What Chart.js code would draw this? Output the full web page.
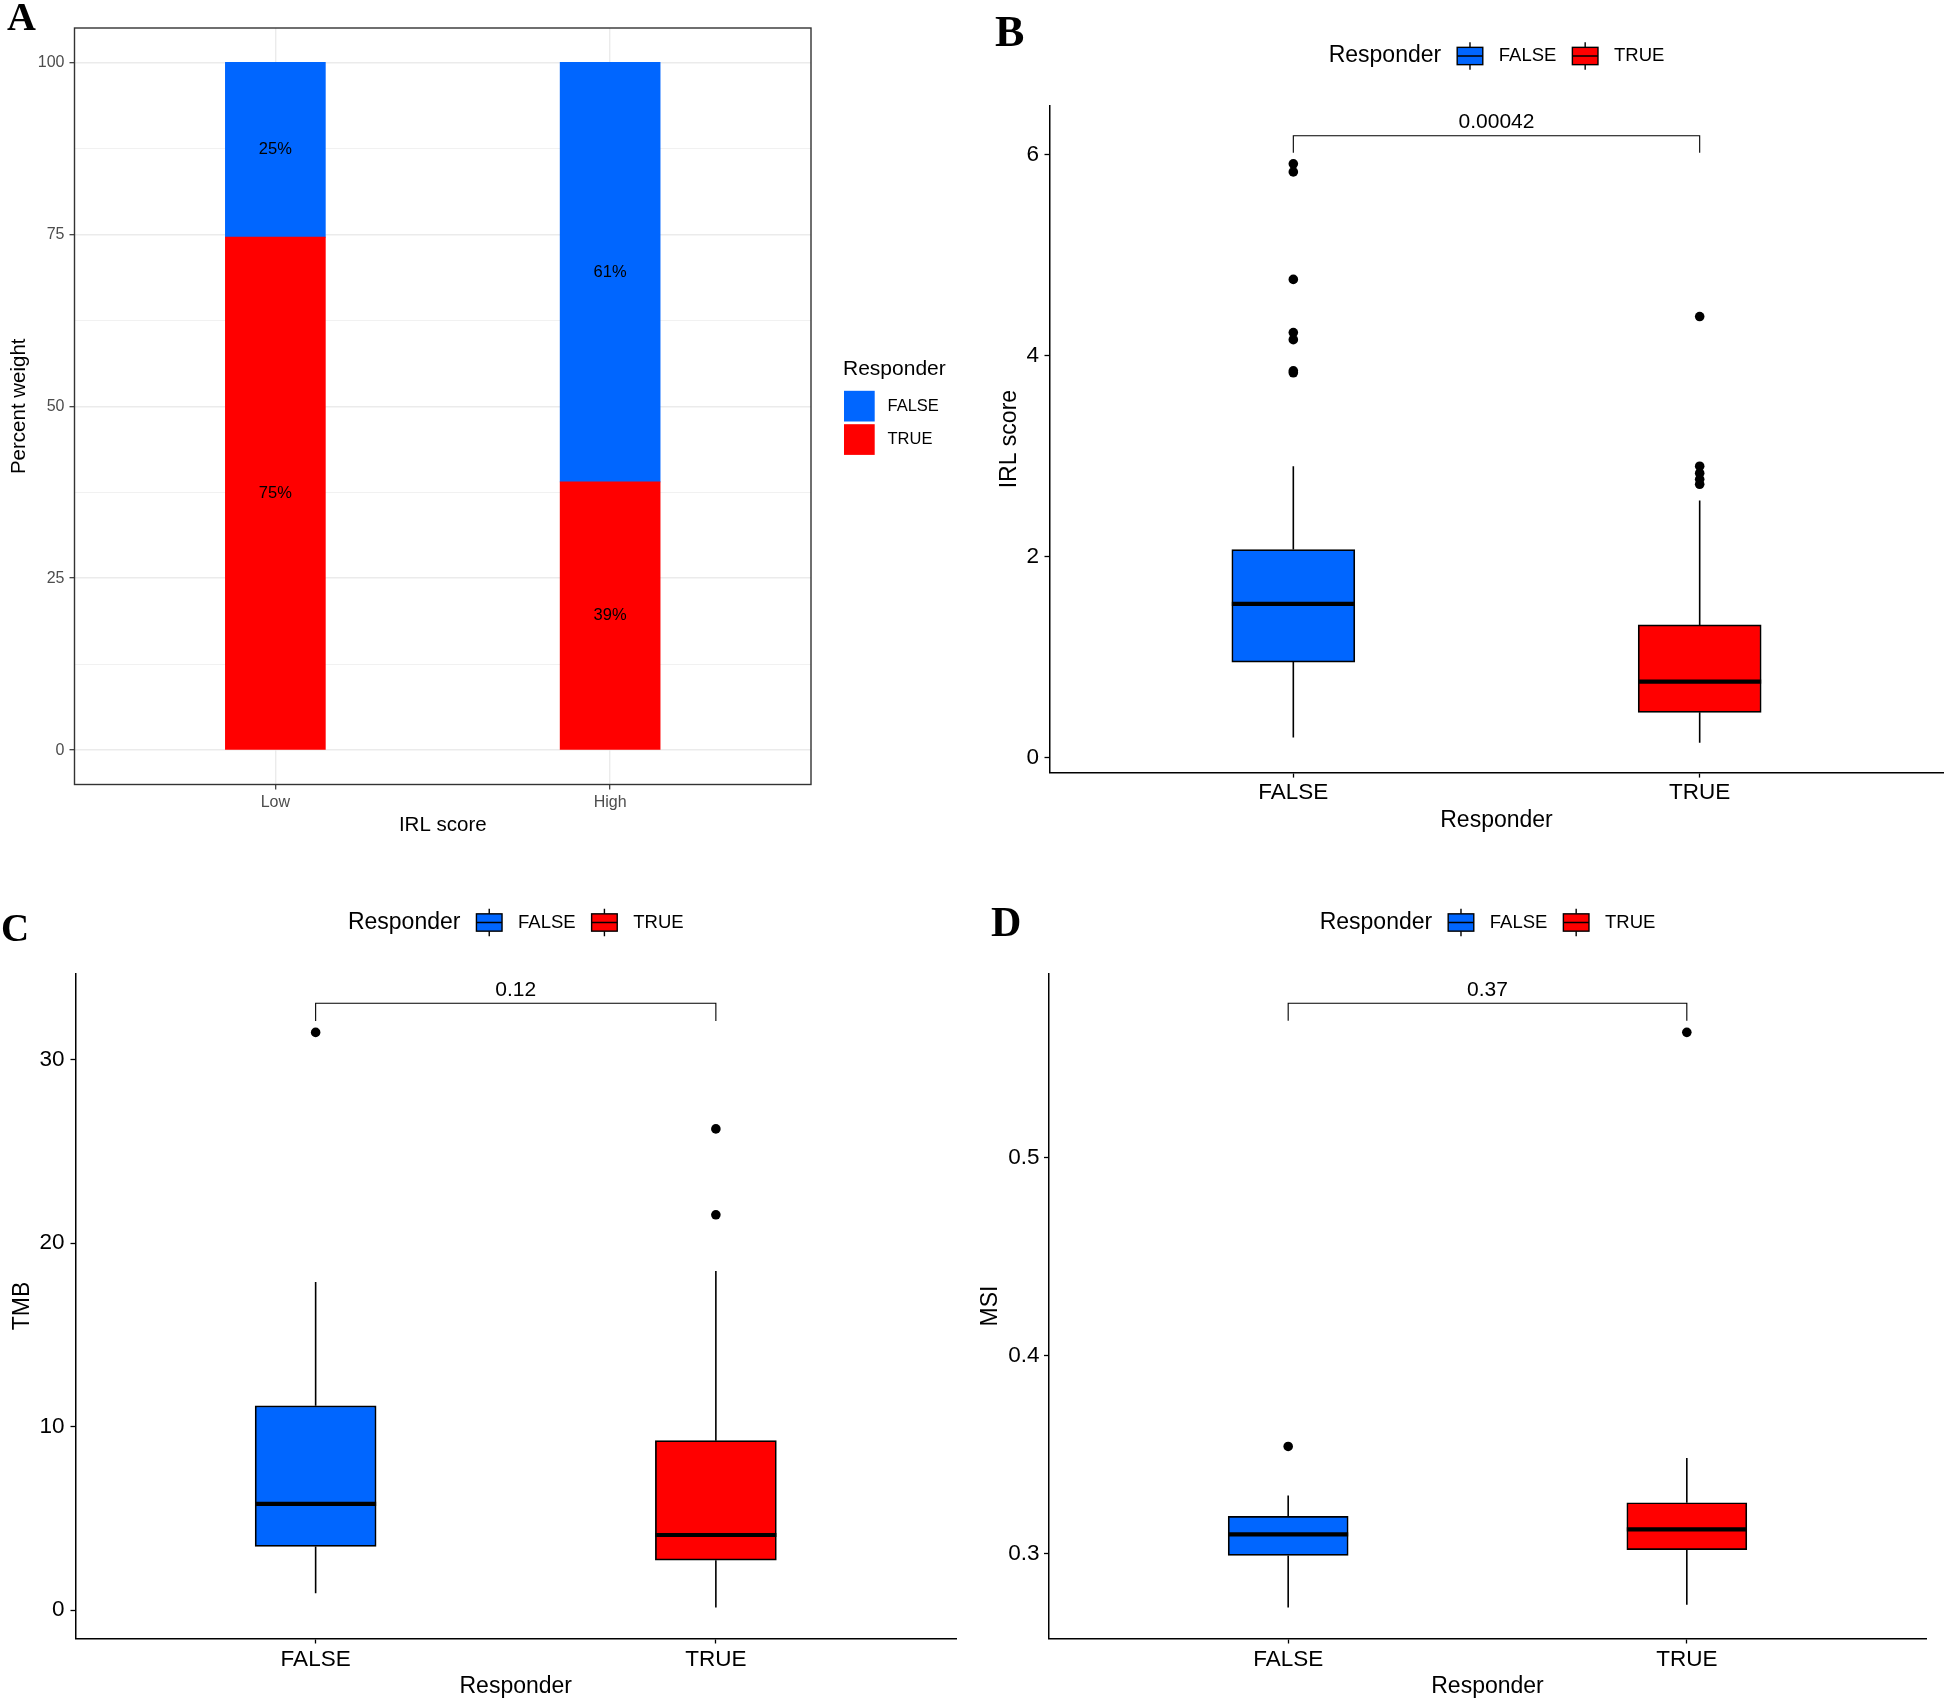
<!DOCTYPE html>
<html>
<head>
<meta charset="utf-8">
<script src="https://cdn.jsdelivr.net/npm/chart.js@4.4.1/dist/chart.umd.min.js"></script>
<style>
html,body{margin:0;padding:0;background:#fff;}
#wrap{position:relative;width:1944px;height:1700px;background:#fff;overflow:hidden;}
canvas{position:absolute;}
</style>
</head>
<body>
<div id="wrap">
<canvas id="cA" width="972" height="850" style="left:0px;top:0px;width:972px;height:850px"></canvas>
<canvas id="cB" width="972" height="850" style="left:972px;top:0px;width:972px;height:850px"></canvas>
<canvas id="cC" width="972" height="850" style="left:0px;top:850px;width:972px;height:850px"></canvas>
<canvas id="cD" width="972" height="850" style="left:972px;top:850px;width:972px;height:850px"></canvas>
</div>
<script>
// ---------------- DATA ----------------
// Panel A : stacked percent bars
const scoreGroups = ['Low', 'High'];
const pctTrue = [74.6, 39];
const pctFalse = [25.4, 61];
const pctTrueLabels = ['75%', '39%'];
const pctFalseLabels = ['25%', '61%'];
const pctTickValues = [0, 25, 50, 75, 100];
const pctTickLabels = ['0', '25', '50', '75', '100'];
const pctMinorValues = [12.5, 37.5, 62.5, 87.5];

// Responder groups (box plots)
const responderCats = ['FALSE', 'TRUE'];
const responderColors = ['#0066FF', '#FF0000'];

// Panel B : IRL score
const irlQ1 = [0.95, 0.45];
const irlMedian = [1.53, 0.755];
const irlQ3 = [2.07, 1.32];
const irlWhiskerLow = [0.20, 0.146];
const irlWhiskerHigh = [2.90, 2.56];
const irlOutliersFalse = [5.91, 5.83, 4.76, 4.23, 4.16, 3.85, 3.83];
const irlOutliersTrue = [4.39, 2.90, 2.83, 2.77, 2.72];
const irlTickValues = [0, 2, 4, 6];
const irlTickLabels = ['0', '2', '4', '6'];
const irlRange = [-0.15, 6.49];
const irlPValue = '0.00042';
const irlBracket = [6.19, 6.02];

// Panel C : TMB
const tmbQ1 = [3.47, 2.72];
const tmbMedian = [5.79, 4.09];
const tmbQ3 = [11.13, 9.23];
const tmbWhiskerLow = [0.91, 0.14];
const tmbWhiskerHigh = [17.88, 18.48];
const tmbOutliersFalse = [31.48];
const tmbOutliersTrue = [26.22, 21.54];
const tmbTickValues = [0, 10, 20, 30];
const tmbTickLabels = ['0', '10', '20', '30'];
const tmbRange = [-1.55, 34.69];
const tmbPValue = '0.12';
const tmbBracket = [33.07, 32.1];

// Panel D : MSI
const msiQ1 = [0.2992, 0.3021];
const msiMedian = [0.3098, 0.3124];
const msiQ3 = [0.3189, 0.3258];
const msiWhiskerLow = [0.2730, 0.2743];
const msiWhiskerHigh = [0.3295, 0.3484];
const msiOutliersFalse = [0.3542];
const msiOutliersTrue = [0.5631];
const msiTickValues = [0.3, 0.4, 0.5];
const msiTickLabels = ['0.3', '0.4', '0.5'];
const msiRange = [0.2573, 0.5928];
const msiPValue = '0.37';
const msiBracket = [0.5778, 0.5689];

// ---------------- STYLE ----------------
const SANS = '"Liberation Sans", Arial, Helvetica, sans-serif';
const SERIF = '"Liberation Serif", "Times New Roman", serif';

function drawLetter(ctx, letter, x, y, size) {
  ctx.save();
  ctx.font = 'bold ' + size + 'px ' + SERIF;
  ctx.fillStyle = '#000';
  ctx.textAlign = 'left';
  ctx.textBaseline = 'alphabetic';
  ctx.fillText(letter, x, y);
  ctx.restore();
}

// ---------------- PANEL A ----------------
const panelADecor = {
  id: 'panelADecor',
  afterDatasetsDraw(chart) {
    const ctx = chart.ctx;
    const labels = [pctTrueLabels, pctFalseLabels];
    ctx.save();
    ctx.font = '16.5px ' + SANS;
    ctx.fillStyle = '#000';
    ctx.textAlign = 'center';
    ctx.textBaseline = 'middle';
    chart.data.datasets.forEach((ds, di) => {
      chart.getDatasetMeta(di).data.forEach((el, i) => {
        const p = el.getProps(['x', 'y', 'base'], true);
        ctx.fillText(labels[di][i], p.x, (p.y + p.base) / 2);
      });
    });
    ctx.restore();
  },
  afterDraw(chart) {
    const ctx = chart.ctx, a = chart.chartArea;
    ctx.save();
    ctx.strokeStyle = '#333333';
    ctx.lineWidth = 1.4;
    ctx.strokeRect(a.left, a.top, a.right - a.left, a.bottom - a.top);
    // legend
    ctx.fillStyle = '#000';
    ctx.textAlign = 'left';
    ctx.textBaseline = 'middle';
    ctx.font = '21px ' + SANS;
    ctx.fillText('Responder', 843, 369.5);
    ctx.font = '16.5px ' + SANS;
    const keyTop = [390.8, 424.2];
    responderCats.forEach((c, i) => {
      ctx.fillStyle = responderColors[i];
      ctx.fillRect(844, keyTop[i], 30.7, 30.7);
      ctx.fillStyle = '#000';
      ctx.fillText(c, 887.5, keyTop[i] + 15.5);
    });
    ctx.restore();
    drawLetter(ctx, 'A', 7, 29.8, 40);
  }
};

new Chart(document.getElementById('cA'), {
  type: 'bar',
  data: {
    datasets: [
      { label: 'TRUE', data: scoreGroups.map((g, i) => ({ x: i + 1, y: pctTrue[i] })),
        backgroundColor: responderColors[1], borderWidth: 0, barThickness: 100 },
      { label: 'FALSE', data: scoreGroups.map((g, i) => ({ x: i + 1, y: pctFalse[i] })),
        backgroundColor: responderColors[0], borderWidth: 0, barThickness: 100 }
    ]
  },
  options: {
    responsive: false, animation: false, devicePixelRatio: 1,
    layout: { autoPadding: false, padding: { left: 0, top: 28, right: 161, bottom: 0 } },
    plugins: { legend: { display: false }, tooltip: { enabled: false } },
    scales: {
      x: {
        type: 'linear', stacked: true, min: 0.4, max: 2.6, offset: false,
        afterBuildTicks: s => { s.ticks = scoreGroups.map((g, i) => ({ value: i + 1 })); },
        afterFit: s => { s.height = 65.5; },
        grid: { color: '#EBEBEB', lineWidth: 1.4, drawTicks: true, tickLength: 5, tickColor: '#333333', tickWidth: 1.2, offset: false },
        border: { display: false },
        ticks: { callback: v => scoreGroups[Math.round(v) - 1], color: '#4D4D4D', font: { family: SANS, size: 16 }, padding: 3.4, maxRotation: 0, autoSkip: false },
        title: { display: true, text: 'IRL score', color: '#000', font: { family: SANS, size: 20.5 }, padding: { top: 0, bottom: 12.2 } }
      },
      y: {
        type: 'linear', stacked: true, min: -5, max: 105,
        afterBuildTicks: s => { s.ticks = pctTickValues.concat(pctMinorValues).sort((p, q) => p - q).map(v => ({ value: v })); },
        afterFit: s => { s.width = 74.5; },
        grid: {
          color: '#EBEBEB',
          lineWidth: c => (pctTickValues.includes(c.tick.value) ? 1.4 : 0.7),
          drawTicks: true, tickLength: 5,
          tickColor: c => (pctTickValues.includes(c.tick.value) ? '#333333' : 'rgba(0,0,0,0)'),
          tickWidth: 1.2
        },
        border: { display: false },
        ticks: {
          callback: v => { const k = pctTickValues.indexOf(v); return k >= 0 ? pctTickLabels[k] : ''; },
          color: '#4D4D4D', font: { family: SANS, size: 16 }, padding: 5, autoSkip: false
        },
        title: { display: true, text: 'Percent weight', color: '#000', font: { family: SANS, size: 20.5 }, padding: { top: 6.8, bottom: 0 } }
      }
    }
  },
  plugins: [panelADecor]
});

// ---------------- BOX PANELS ----------------
function boxChart(id, d, L) {
  const decor = {
    id: 'decor' + id,
    beforeDatasetsDraw(chart) {
      const ctx = chart.ctx, xs = chart.scales.x, ys = chart.scales.y;
      ctx.save();
      ctx.strokeStyle = '#000';
      ctx.lineWidth = 1.6;
      responderCats.forEach((c, i) => {
        const x = xs.getPixelForValue(i + 1);
        ctx.beginPath();
        ctx.moveTo(x, ys.getPixelForValue(d.lo[i]));
        ctx.lineTo(x, ys.getPixelForValue(d.q1[i]));
        ctx.moveTo(x, ys.getPixelForValue(d.q3[i]));
        ctx.lineTo(x, ys.getPixelForValue(d.hi[i]));
        ctx.stroke();
      });
      ctx.restore();
    },
    afterDatasetsDraw(chart) {
      const ctx = chart.ctx, xs = chart.scales.x, ys = chart.scales.y;
      ctx.save();
      ctx.strokeStyle = '#000';
      ctx.lineWidth = 4.2;
      chart.getDatasetMeta(0).data.forEach((el, i) => {
        const p = el.getProps(['x', 'width'], true);
        const y = ys.getPixelForValue(d.med[i]);
        ctx.beginPath();
        ctx.moveTo(p.x - p.width / 2, y);
        ctx.lineTo(p.x + p.width / 2, y);
        ctx.stroke();
      });
      // significance bracket
      const x1 = xs.getPixelForValue(1), x2 = xs.getPixelForValue(2);
      const yb = ys.getPixelForValue(d.bracket[0]), yd = ys.getPixelForValue(d.bracket[1]);
      ctx.lineWidth = 1.1;
      ctx.beginPath();
      ctx.moveTo(x1, yd); ctx.lineTo(x1, yb); ctx.lineTo(x2, yb); ctx.lineTo(x2, yd);
      ctx.stroke();
      ctx.fillStyle = '#000';
      ctx.font = '21px ' + SANS;
      ctx.textAlign = 'center';
      ctx.textBaseline = 'middle';
      ctx.fillText(d.p, (x1 + x2) / 2, yb - 13.5);
      ctx.restore();
    },
    afterDraw(chart) {
      const ctx = chart.ctx, a = chart.chartArea;
      ctx.save();
      ctx.textAlign = 'left';
      ctx.textBaseline = 'middle';
      ctx.font = '23px ' + SANS;
      const wTitle = ctx.measureText('Responder').width;
      ctx.font = '18.5px ' + SANS;
      const wLab = responderCats.map(c => ctx.measureText(c).width);
      const kw = 25.6, kh = 17.3, gap = 16;
      const total = wTitle + 2 * (gap + kw + gap) + wLab[0] + wLab[1];
      let x = (a.left + a.right) / 2 - total / 2;
      const cy = L.legendY;
      ctx.fillStyle = '#000';
      ctx.font = '23px ' + SANS;
      ctx.fillText('Responder', x, cy);
      x += wTitle + gap;
      responderCats.forEach((c, i) => {
        ctx.fillStyle = responderColors[i];
        ctx.fillRect(x, cy - kh / 2, kw, kh);
        ctx.strokeStyle = '#000';
        ctx.lineWidth = 1.4;
        ctx.strokeRect(x, cy - kh / 2, kw, kh);
        ctx.beginPath();
        ctx.moveTo(x, cy); ctx.lineTo(x + kw, cy);
        ctx.moveTo(x + kw / 2, cy - kh / 2); ctx.lineTo(x + kw / 2, cy - 13.8);
        ctx.moveTo(x + kw / 2, cy + kh / 2); ctx.lineTo(x + kw / 2, cy + 13.8);
        ctx.stroke();
        x += kw + gap;
        ctx.fillStyle = '#000';
        ctx.font = '18.5px ' + SANS;
        ctx.fillText(c, x, cy);
        x += wLab[i] + gap;
      });
      ctx.restore();
      drawLetter(ctx, L.letter, L.letterX, L.letterY, L.letterSize);
    }
  };

  return new Chart(document.getElementById(id), {
    type: 'bar',
    data: {
      datasets: [
        { type: 'bar', label: 'box', data: responderCats.map((c, i) => ({ x: i + 1, y: [d.q1[i], d.q3[i]] })),
          backgroundColor: responderColors, borderColor: '#000', borderWidth: 1.7, borderSkipped: false,
          barThickness: L.bar, order: 2 },
        { type: 'scatter', label: 'outFALSE', data: d.outF.map(v => ({ x: 1, y: v })),
          pointRadius: 4.8, pointHoverRadius: 4.8, pointBackgroundColor: '#000', pointBorderWidth: 0, order: 1 },
        { type: 'scatter', label: 'outTRUE', data: d.outT.map(v => ({ x: 2, y: v })),
          pointRadius: 4.8, pointHoverRadius: 4.8, pointBackgroundColor: '#000', pointBorderWidth: 0, order: 1 }
      ]
    },
    options: {
      responsive: false, animation: false, devicePixelRatio: 1,
      layout: { autoPadding: false, padding: { left: 0, top: L.top, right: L.right, bottom: 0 } },
      plugins: { legend: { display: false }, tooltip: { enabled: false } },
      scales: {
        x: {
          type: 'linear', min: 0.4, max: 2.6, offset: false,
          afterBuildTicks: s => { s.ticks = responderCats.map((c, i) => ({ value: i + 1 })); },
          afterFit: s => { s.height = L.xH; },
          grid: { display: true, drawOnChartArea: false, drawTicks: true, tickLength: 5, tickColor: '#000', tickWidth: 1.3, offset: false },
          border: { display: true, color: '#000', width: 1.5 },
          ticks: { callback: v => responderCats[Math.round(v) - 1], color: '#000', font: { family: SANS, size: 22.5 }, padding: L.xTickPad, maxRotation: 0, autoSkip: false },
          title: { display: true, text: 'Responder', color: '#000', font: { family: SANS, size: 23, lineHeight: L.xTitleLH }, padding: { top: 0, bottom: L.xTitlePad } }
        },
        y: {
          type: 'linear', min: d.range[0], max: d.range[1],
          afterBuildTicks: s => { s.ticks = d.tickVals.map(v => ({ value: v })); },
          afterFit: s => { s.width = L.yW; },
          grid: { display: true, drawOnChartArea: false, drawTicks: true, tickLength: 5, tickColor: '#000', tickWidth: 1.3 },
          border: { display: true, color: '#000', width: 1.5 },
          ticks: { callback: (v, i) => d.tickLabels[i], color: '#000', font: { family: SANS, size: 22.5 }, padding: L.yTickPad, autoSkip: false },
          title: { display: true, text: d.yTitle, color: '#000', font: { family: SANS, size: 23 }, padding: { top: L.yTitlePad, bottom: 0 } }
        }
      }
    },
    plugins: [decor]
  });
}

boxChart('cB', {
  q1: irlQ1, med: irlMedian, q3: irlQ3, lo: irlWhiskerLow, hi: irlWhiskerHigh,
  outF: irlOutliersFalse, outT: irlOutliersTrue, range: irlRange,
  tickVals: irlTickValues, tickLabels: irlTickLabels, yTitle: 'IRL score', p: irlPValue, bracket: irlBracket
}, { top: 105.6, right: 0.5, yW: 77.5, xH: 77.4, yTickPad: 5.5, yTitlePad: 24, xTickPad: 2, xTitlePad: 15.6, xTitleLH: 1.2,
     bar: 123, legendY: 56, letter: 'B', letterX: 23, letterY: 46, letterSize: 44 });

boxChart('cC', {
  q1: tmbQ1, med: tmbMedian, q3: tmbQ3, lo: tmbWhiskerLow, hi: tmbWhiskerHigh,
  outF: tmbOutliersFalse, outT: tmbOutliersTrue, range: tmbRange,
  tickVals: tmbTickValues, tickLabels: tmbTickLabels, yTitle: 'TMB', p: tmbPValue, bracket: tmbBracket
}, { top: 123.5, right: 16, yW: 75.5, xH: 61.5, yTickPad: 6, yTitlePad: 8.7, xTickPad: 3, xTitlePad: 2, xTitleLH: 1.0,
     bar: 121, legendY: 72.5, letter: 'C', letterX: 1, letterY: 91, letterSize: 39 });

boxChart('cD', {
  q1: msiQ1, med: msiMedian, q3: msiQ3, lo: msiWhiskerLow, hi: msiWhiskerHigh,
  outF: msiOutliersFalse, outT: msiOutliersTrue, range: msiRange,
  tickVals: msiTickValues, tickLabels: msiTickLabels, yTitle: 'MSI', p: msiPValue, bracket: msiBracket
}, { top: 123.5, right: 18, yW: 77, xH: 61.5, yTickPad: 4.5, yTitlePad: 4.7, xTickPad: 3, xTitlePad: 2, xTitleLH: 1.0,
     bar: 120, legendY: 72.5, letter: 'D', letterX: 19, letterY: 86, letterSize: 42 });
</script>
</body>
</html>
